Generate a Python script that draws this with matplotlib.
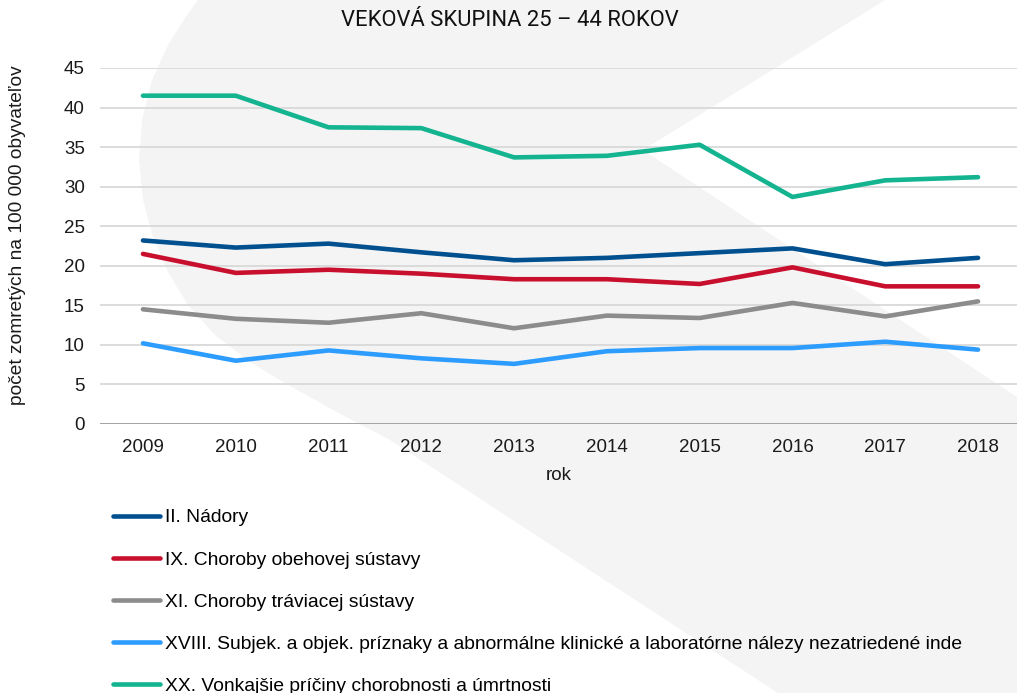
import matplotlib
matplotlib.use("Agg")
import matplotlib.pyplot as plt
from matplotlib.patches import Polygon
from matplotlib.lines import Line2D

years = ["2009", "2010", "2011", "2012", "2013", "2014", "2015", "2016", "2017", "2018"]
nadory = [23.2, 22.3, 22.8, 21.7, 20.7, 21.0, 21.6, 22.2, 20.2, 21.0]
obehova = [21.5, 19.1, 19.5, 19.0, 18.3, 18.3, 17.7, 19.8, 17.4, 17.4]
traviaca = [14.5, 13.3, 12.8, 14.0, 12.1, 13.7, 13.4, 15.3, 13.6, 15.5]
priznaky = [10.2, 8.0, 9.3, 8.3, 7.6, 9.2, 9.6, 9.6, 10.4, 9.4]
vonkajsie = [41.5, 41.5, 37.5, 37.4, 33.7, 33.9, 35.3, 28.7, 30.8, 31.2]

labels = [
    "II. Nádory",
    "IX. Choroby obehovej sústavy",
    "XI. Choroby tráviacej sústavy",
    "XVIII. Subjek. a objek. príznaky a abnormálne klinické a laboratórne nálezy nezatriedené inde",
    "XX. Vonkajšie príčiny chorobnosti a úmrtnosti",
]
colors = ["#00508f", "#c8102e", "#8c8c8c", "#2d9cff", "#13b48f"]
series = [nadory, obehova, traviaca, priznaky, vonkajsie]

FONT = ["Liberation Sans", "DejaVu Sans"]
W, H = 1017, 693
fig = plt.figure(figsize=(W / 100, H / 100), dpi=100)
fig.patch.set_facecolor("white")

# background decorative shape (pixel coords, y down)
pts = [(198, 0), (885, 0), (643, 150), (1017, 397), (1017, 693), (778, 693),
       (390, 440), (333, 410), (290, 386), (250, 362), (215, 335), (188, 305),
       (168, 272), (153, 237), (143, 200), (139, 160), (142, 120), (152, 80),
       (168, 45), (185, 18)]
poly = Polygon([(x / W, 1 - y / H) for x, y in pts], closed=True,
               transform=fig.transFigure, facecolor="#f4f4f4", edgecolor="none", zorder=-10)
fig.patches.append(poly)

ax = fig.add_axes([100 / W, 1 - 424 / H, 1 - 100 / W, (424 - 68) / H])
ax.set_zorder(1)
ax.patch.set_alpha(0)
x = list(range(len(years)))
for s, c, l in zip(series, colors, labels):
    ax.plot(x, s, color=c, lw=3.3, solid_capstyle="round", solid_joinstyle="round", label=l, zorder=3)

ax.set_xlim(-0.463, 9.42)
ax.set_ylim(0, 45)
ax.set_yticks(range(0, 50, 5))
ax.set_xticks(x)
ax.set_xticklabels(years)
for sp in ax.spines.values():
    sp.set_visible(False)
ax.grid(axis="y", color="#d9d9d9", lw=1.3, zorder=1)
ax.axhline(0, color="#a0a0a0", lw=1.3, zorder=2)
ax.tick_params(axis="both", length=0, labelsize=13.5, colors="#1a1a1a")
ax.tick_params(axis="y", pad=11)
ax.tick_params(axis="x", pad=11)
for t in ax.get_xticklabels() + ax.get_yticklabels():
    t.set_fontfamily(FONT)

ax.set_xlabel("rok", fontsize=13.5, family=FONT, labelpad=8, color="#1a1a1a")
fig.text(18 / W, 1 - 235 / H, "počet zomretých na 100 000 obyvateľov", rotation=90,
         ha="center", va="center", fontsize=13.8, family=FONT, color="#1a1a1a")

fig.text(510 / W, 1 - 21 / H, "VEKOVÁ SKUPINA 25 – 44 ROKOV", ha="center", va="center",
         fontsize=15.8, family=["Roboto", "DejaVu Sans"], fontweight="normal", color="#111111")

handles = [Line2D([], [], color=c, lw=3.3, solid_capstyle="round") for c in colors]
fig.legend(handles, labels, loc="upper left", bbox_to_anchor=(113 / W, 1 - 509 / H),
           frameon=False, prop={"family": FONT, "size": 13.85},
           handlelength=2.42, handletextpad=0.27, labelspacing=1.28, borderpad=0, borderaxespad=0)

fig.savefig("out.png", dpi=100)
